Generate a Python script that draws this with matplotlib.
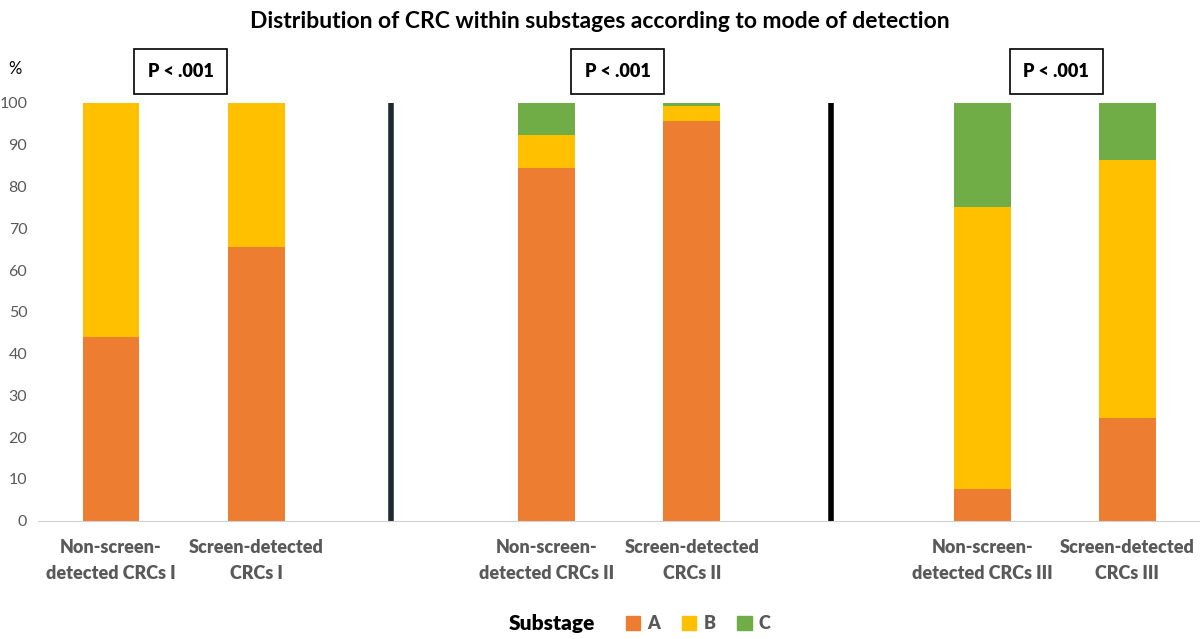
import matplotlib
matplotlib.use("Agg")
import matplotlib.pyplot as plt
from matplotlib.patches import Patch

plt.rcParams["font.family"] = ["Lato", "DejaVu Sans"]

# categories (empty slots separate the three stage groups)
categories = [
    "Non-screen-\ndetected CRCs I", "Screen-detected\nCRCs I",
    "Non-screen-\ndetected CRCs II", "Screen-detected\nCRCs II",
    "Non-screen-\ndetected CRCs III", "Screen-detected\nCRCs III",
]
positions = [0, 1, 3, 4, 6, 7]
substage_a = [44.0, 65.5, 84.5, 95.7, 7.5, 24.5]
substage_b = [56.0, 34.5, 7.7, 3.5, 67.7, 61.8]
substage_c = [0.0, 0.0, 7.8, 0.8, 24.8, 13.7]
p_labels = ["P < .001", "P < .001", "P < .001"]
p_positions = [0.48, 3.49, 6.51]
separators = [1.93, 4.96]

col_a = "#ED7D31"
col_b = "#FFC000"
col_c = "#70AD47"
grey = "#595959"

fig = plt.figure(figsize=(12, 6.39), dpi=100)
ax = fig.add_axes([0.032, 0.185, 0.968, 0.654])

width = 0.39
bottom_c = [a + b for a, b in zip(substage_a, substage_b)]
ax.bar(positions, substage_a, width, color=col_a, label="A")
ax.bar(positions, substage_b, width, bottom=substage_a, color=col_b, label="B")
ax.bar(positions, substage_c, width, bottom=bottom_c, color=col_c, label="C")

for x, c in zip(separators, ["#1e2832", "#000000"]):
    ax.plot([x, x], [0, 100], color=c, linewidth=4, solid_capstyle="butt", clip_on=False)

for x, lab in zip(p_positions, p_labels):
    ax.text(x, 107.5, lab, ha="center", va="center", fontsize=13, fontweight="heavy",
            bbox=dict(boxstyle="square,pad=0.75", fc="white", ec="black", lw=1.2),
            clip_on=False)

ax.set_xlim(-0.5, 7.5)
ax.set_ylim(0, 100)
ax.set_yticks(range(0, 101, 10))
ax.set_xticks(positions)
ax.set_xticklabels(categories, fontsize=13, fontweight="heavy", color=grey, linespacing=1.65)
ax.tick_params(axis="y", length=0, labelsize=11.5, labelcolor=grey, pad=8)
ax.tick_params(axis="x", length=0, pad=13)
for s in ["top", "right", "left"]:
    ax.spines[s].set_visible(False)
ax.spines["bottom"].set_color("#d0d0d0")

ax.text(-0.02, 1.08, "%", transform=ax.transAxes, ha="center", va="center",
        fontsize=12, color="black")

fig.text(0.5, 0.966, "Distribution of CRC within substages according to mode of detection",
         ha="center", va="center", fontsize=16.5, fontweight="bold")

fig.text(0.496, 0.024, "Substage", ha="right", va="center", fontsize=15, fontweight="heavy")
handles = [Patch(color=col_a), Patch(color=col_b), Patch(color=col_c)]
fig.legend(handles, ["A", "B", "C"], loc="center left", bbox_to_anchor=(0.508, 0.024),
           ncol=3, frameon=False, handlelength=0.8, handleheight=0.8, handletextpad=0.4,
           columnspacing=1.2, prop={"size": 13, "weight": "heavy"}, labelcolor=grey)

fig.savefig("out.png", dpi=100)
